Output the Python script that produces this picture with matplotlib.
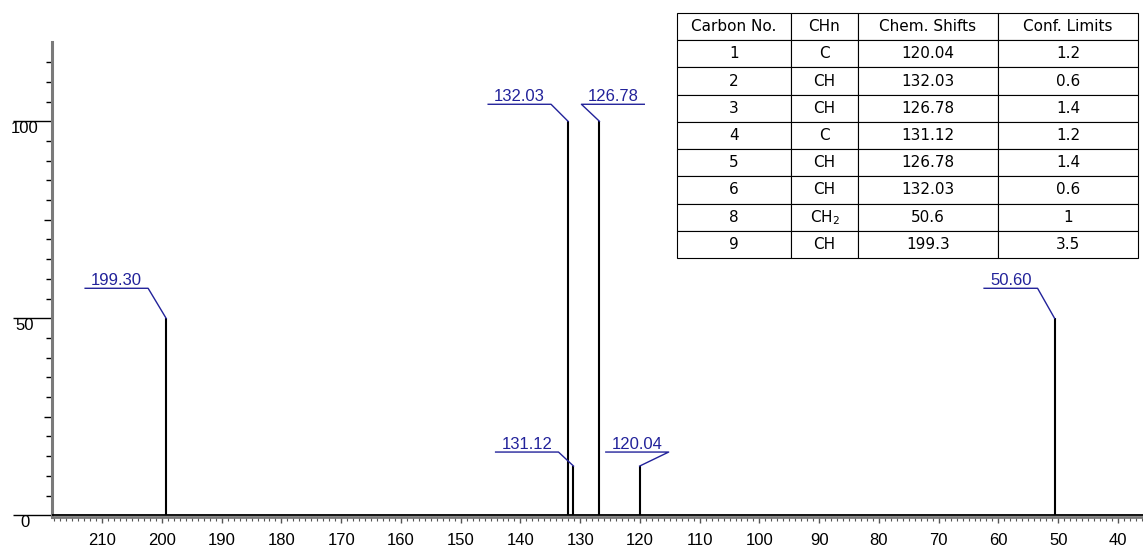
import matplotlib.pyplot as plt
from matplotlib.lines import Line2D
from matplotlib.ticker import MultipleLocator, FixedLocator

plt.rcParams['font.family'] = ['Liberation Sans', 'DejaVu Sans']

# peak list (ppm, relative intensity)
shift_ppm = [199.30, 132.03, 131.12, 126.78, 120.04, 50.60]
intensity = [50, 100, 12.5, 100, 12.5, 50]
peak_labels = ['199.30', '132.03', '131.12', '126.78', '120.04', '50.60']

# assignment table
table_cols = ['Carbon No.', 'CHn', 'Chem. Shifts', 'Conf. Limits']
carbon_no = ['1', '2', '3', '4', '5', '6', '8', '9']
chn = ['C', 'CH', 'CH', 'C', 'CH', 'CH', 'CH$_2$', 'CH']
chem_shifts = ['120.04', '132.03', '126.78', '131.12', '126.78', '132.03', '50.6', '199.3']
conf_limits = ['1.2', '0.6', '1.4', '1.2', '1.4', '0.6', '1', '3.5']

W, H = 1143, 548
fig = plt.figure(figsize=(W / 100, H / 100), dpi=100)
ax = fig.add_axes([0.0455, 0.0568, 0.9545, 0.8657])
ax.set_xlim(218.4, 35.8)
ax.set_ylim(-0.4, 120)

ax.axhline(0, color='black', lw=1.3, zorder=3)
ax.vlines(shift_ppm, 0, intensity, color='black', lw=1.5, zorder=3)

for s in ['top', 'right']:
    ax.spines[s].set_visible(False)
ax.spines['left'].set_color('#7a7a7a')
ax.spines['left'].set_linewidth(2.2)
ax.spines['bottom'].set_color('#7a7a7a')
ax.spines['bottom'].set_linewidth(2.0)

# x axis
ax.xaxis.set_major_locator(MultipleLocator(10))
ax.xaxis.set_minor_locator(MultipleLocator(1))
ax.tick_params(axis='x', which='major', length=4.5, width=1, color='#555555',
               pad=7, labelsize=12)
ax.tick_params(axis='x', which='minor', length=3.2, width=0.8, color='#555555')

# y axis: long ticks with labels at 0/50/100, medium at 25/75, short every 5
ax.set_yticks([0, 25, 50, 75, 100])
ax.set_yticklabels(['0', '', '50', '', '100'])
ax.yaxis.set_minor_locator(FixedLocator([v for v in range(5, 120, 5) if v % 25]))
ax.tick_params(axis='y', which='major', length=28, width=1, color='black',
               pad=-8.6, labelsize=12)
ax.tick_params(axis='y', which='minor', length=4.3, width=1, color='black')
for tick, val in zip(ax.yaxis.get_major_ticks(), [0, 25, 50, 75, 100]):
    if val % 50:
        tick.tick1line.set_markersize(5.8)
    tick.label1.set_horizontalalignment('center')
    tick.label1.set_verticalalignment('top')

# peak labels with leader lines (offsets in pixels)
label_blue = '#22229a'
layout = {
    '199.30': (-18, 30, -1),
    '132.03': (-17, 17, -1),
    '131.12': (-15, 14, -1),
    '126.78': (-18, 17, 1),
    '120.04': (29, 14, -1),
    '50.60': (-17, 30, -1),
}
renderer = fig.canvas.get_renderer()
for x, h, lab in zip(shift_ppm, intensity, peak_labels):
    dx, dy, side = layout[lab]
    px, py = ax.transData.transform((x, h))
    cx, cy = px + dx, py + dy
    t = fig.text(0, 0, lab, fontsize=12, color=label_blue, ha='center', va='baseline')
    tw = t.get_window_extent(renderer).width
    ul = tw + 12
    ex = cx + side * ul
    t.set_position(((cx + ex) / 2 / W, (cy + 3) / H))
    fig.add_artist(Line2D([px / W, cx / W, ex / W], [py / H, cy / H, cy / H],
                          color=label_blue, lw=1, transform=fig.transFigure))

# table
ax_t = fig.add_axes([0.5923, 0.5292, 0.4033, 0.4471])
ax_t.axis('off')
rows = list(zip(carbon_no, chn, chem_shifts, conf_limits))
widths = [114, 67, 140, 140]
tbl = ax_t.table(cellText=rows, colLabels=table_cols,
                 colWidths=[w / sum(widths) for w in widths],
                 bbox=[0, 0, 1, 1], cellLoc='center')
tbl.auto_set_font_size(False)
for cell in tbl.get_celld().values():
    cell.set_linewidth(0.8)
    cell.set_edgecolor('black')
    cell.get_text().set_fontsize(11)
    cell.get_text().set_fontfamily('DejaVu Sans')

fig.savefig('out.png', dpi=100)
